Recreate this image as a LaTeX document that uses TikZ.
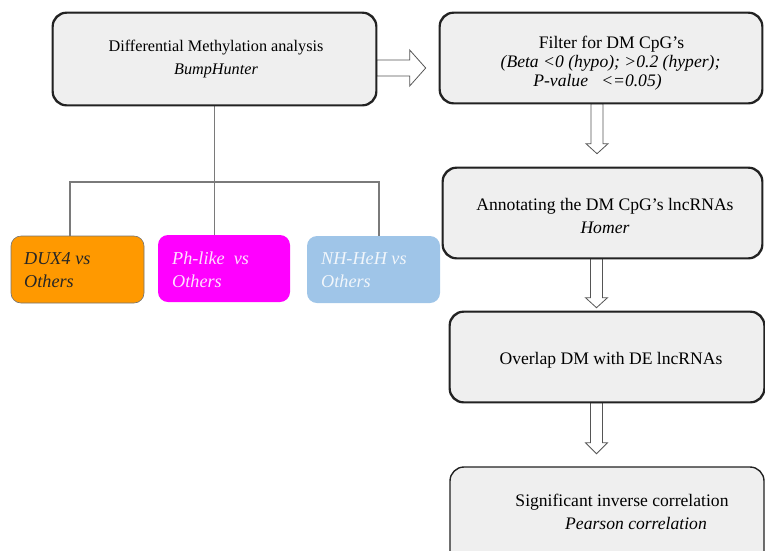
\documentclass[tikz,border=0pt]{standalone}
\usepackage{fontspec}
\setmainfont{Liberation Serif}[ItalicFont={Liberation Serif Italic}]
\usetikzlibrary{calc}
\definecolor{boxfill}{HTML}{EFEFEF}
\definecolor{boxline}{HTML}{222222}
\definecolor{treeline}{HTML}{7A7A7A}
\definecolor{duxfill}{HTML}{FF9900}
\definecolor{phfill}{HTML}{FF00FF}
\definecolor{nhfill}{HTML}{9FC5E8}
\definecolor{arrowline}{HTML}{555555}
\tikzset{
  procbox/.style={draw=boxline, line width=1.4pt, fill=boxfill, rounded corners=14pt, inner sep=0pt},
  grpbox/.style={rounded corners=10pt, inner sep=0pt, minimum width=133pt, minimum height=67pt},
  txt/.style={inner sep=0pt, align=center, font=\fontsize{17.6}{23}\selectfont},
  ltxt/.style={inner sep=0pt, align=center, font=\fontsize{16.2}{22.5}\selectfont},
  grptxt/.style={inner sep=0pt, anchor=west, align=left, font=\fontsize{18.2}{23}\selectfont\itshape},
  blockarrow/.style={draw=arrowline, line width=0.8pt, fill=white, line join=miter},
  tree/.style={draw=treeline, line width=1.1pt}
}
\begin{document}
\begin{tikzpicture}[x=1pt,y=-1pt]
\useasboundingbox (0,0) rectangle (765,550);
\clip (0,0) rectangle (765,550);

% boxes (positions)
\node[procbox, minimum width=323pt, minimum height=92pt] (dma) at (214.5,59) {};
\node[procbox, minimum width=322pt, minimum height=90pt] (filter) at (601,58) {};
\node[procbox, minimum width=319pt, minimum height=90pt] (annot) at (602.5,213) {};
\node[procbox, minimum width=314pt, minimum height=90pt] (overlap) at (607,357) {};
\node[procbox, minimum width=314pt, minimum height=100pt] (sig) at (607,517) {};

% group boxes
\node[grpbox, fill=duxfill, draw=black!55, line width=0.6pt] (dux) at (77.5,269.5) {};
\node[grpbox, fill=phfill, minimum width=132pt] (ph) at (224,268.5) {};
\node[grpbox, fill=nhfill] (nh) at (373.5,269.5) {};

% tree
\coordinate (j) at ($(dma.south)+(0,77)$);
\coordinate (bl) at (69,182);
\coordinate (br) at (380,182);
\draw[tree] (dma.south) -- (j);
\draw[tree] (bl) -- (br);
\draw[tree] (70,182) -- (dux.north -| 70,0);
\draw[tree] (j) -- (ph.north -| j);
\draw[tree] (379,182) -- (nh.north -| 379,0);

% block arrows
\coordinate (ra) at ($(dma.east)+(0,9)$);
\draw[blockarrow] (ra) ++(0,-8) -- ++(33,0) -- ++(0,-10) -- ++(16,18) -- ++(-16,18) -- ++(0,-10) -- ++(-33,0) -- cycle;

\coordinate (a1) at ($(filter.south)+(-4,0)$);
\draw[blockarrow] (a1) ++(-6,0) -- ++(0,40) -- ++(-5,0) -- ++(11,10) -- ++(11,-10) -- ++(-5,0) -- ++(0,-40) -- cycle;

\coordinate (a2) at ($(annot.south)+(-6,0)$);
\draw[blockarrow] (a2) ++(-6,0) -- ++(0,39) -- ++(-5,0) -- ++(11,10) -- ++(11,-10) -- ++(-5,0) -- ++(0,-39) -- cycle;

\coordinate (a3) at ($(overlap.south)+(-10.5,0)$);
\draw[blockarrow] (a3) ++(-6,0) -- ++(0,40) -- ++(-5,0) -- ++(11,11) -- ++(11,-11) -- ++(-5,0) -- ++(0,-40) -- cycle;

% redraw box outlines on top of arrow ends
\draw[draw=boxline, line width=1.4pt, rounded corners=14pt] (dma.south west) rectangle (dma.north east);
\draw[draw=boxline, line width=1.4pt, rounded corners=14pt] (filter.south west) rectangle (filter.north east);
\draw[draw=boxline, line width=1.4pt, rounded corners=14pt] (annot.south west) rectangle (annot.north east);
\draw[draw=boxline, line width=1.4pt, rounded corners=14pt] (overlap.south west) rectangle (overlap.north east);

% texts
\node[ltxt] (dmat) at (216,59) {Differential Methylation analysis\\\textit{BumpHunter}};
\node[txt] (f1) at (611.5,44) {Filter for DM CpG’s};
\node[txt] (f2) at (610.5,63.5) {\textit{(Beta <0 (hypo); >0.2 (hyper);}};
\node[txt] (f3) at (597.5,82.5) {\textit{P-value\ \ \ <=0.05)}};
\node[txt] (annott) at (605,215.5) {Annotating the DM CpG’s lncRNAs\\\textit{Homer}};
\node[txt] (overlapt) at (611,360) {Overlap DM with DE lncRNAs};
\node[txt] (sig1) at (622,502) {Significant inverse correlation};
\node[txt] (sig2) at (636,523.5) {\textit{Pearson correlation}};

\node[grptxt, text=black!85] (duxt) at (24,270.5) {DUX4 vs\\Others};
\node[grptxt, text=white!88!phfill] (pht) at (172,270) {Ph-like\ \ vs\\Others};
\node[grptxt, text=white!85!nhfill] (nht) at (321,270.5) {NH-HeH vs\\Others};
\end{tikzpicture}
\end{document}
